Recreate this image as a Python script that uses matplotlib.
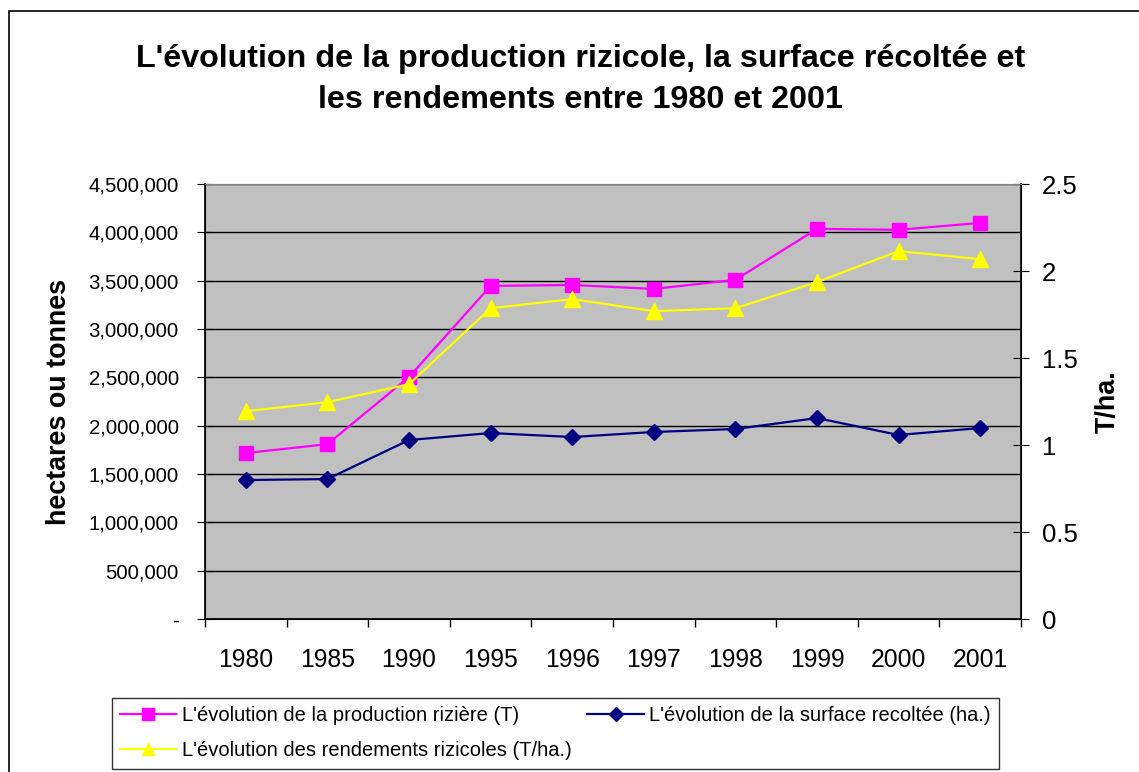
import matplotlib.pyplot as plt
from matplotlib.patches import Rectangle
from matplotlib.ticker import FuncFormatter

plt.rcParams['font.family'] = ['Liberation Sans', 'DejaVu Sans']

years = ["1980", "1985", "1990", "1995", "1996", "1997", "1998", "1999", "2000", "2001"]
production = [1718000, 1810000, 2505000, 3447000, 3457000, 3416000, 3510000, 4037000, 4027000, 4099000]
surface = [1439000, 1449000, 1853000, 1925000, 1884000, 1936000, 1967000, 2080000, 1905000, 1977000]
rendement = [1.195, 1.247, 1.35, 1.787, 1.839, 1.77, 1.787, 1.937, 2.115, 2.069]

lab_prod = "L'évolution de la production rizière (T)"
lab_surf = "L'évolution de la surface recoltée (ha.)"
lab_rend = "L'évolution des rendements rizicoles (T/ha.)"


def fmt_left(v, pos):
    if v == 0:
        return "-"
    return "{:,.0f}".format(v)


fig = plt.figure(figsize=(11.39, 7.72), dpi=100)
ax = fig.add_axes([0.18, 0.198, 0.7164, 0.5635])
ax.set_facecolor("#C0C0C0")

x = list(range(len(years)))
l1, = ax.plot(x, production, color="#FF00FF", marker="s", markersize=10, lw=1.6, label=lab_prod)
l2, = ax.plot(x, surface, color="#000080", marker="D", markersize=8.5, lw=1.6, label=lab_surf)

ax.set_ylim(0, 4500000)
ax.set_yticks(range(0, 4500001, 500000))
ax.yaxis.set_major_formatter(FuncFormatter(fmt_left))
ax.grid(axis="y", color="black", lw=1)
ax.set_axisbelow(True)
ax.set_xlim(-0.5, len(years) - 0.5)
ax.set_xticks(x)
ax.set_xticklabels(years)
ax.set_xticks([i - 0.5 for i in range(len(years) + 1)], minor=True)
ax.tick_params(axis="x", which="major", length=0, labelsize=17.8, pad=21)
ax.tick_params(axis="x", which="minor", length=6, direction="out", width=1)
ax.tick_params(axis="y", labelsize=14.7, direction="inout", length=12, pad=13)
ax.set_ylabel("hectares ou tonnes", fontsize=19.4, fontweight="bold", labelpad=12)
for s in ["left", "bottom"]:
    ax.spines[s].set_color("black")
    ax.spines[s].set_linewidth(1.2)
ax.spines["top"].set_color("#808080")

ax2 = ax.twinx()
l3, = ax2.plot(x, rendement, color="#FFFF00", marker="^", markersize=11, lw=1.6, label=lab_rend)
ax2.set_ylim(0, 2.5)
ax2.set_yticks([0, 0.5, 1, 1.5, 2, 2.5])
ax2.set_yticklabels(["0", "0.5", "1", "1.5", "2", "2.5"])
ax2.tick_params(axis="y", labelsize=18.5, direction="inout", length=12, pad=9)
ax2.set_ylabel("T/ha.", fontsize=19.4, fontweight="bold", rotation=90, labelpad=12)
ax2.spines["right"].set_linewidth(1.2)
ax2.spines["top"].set_color("#808080")

fig.text(0.51, 0.923, "L'évolution de la production rizicole, la surface récoltée et",
         ha="center", va="center", fontsize=23.2, fontweight="bold")
fig.text(0.51, 0.871, "les rendements entre 1980 et 2001",
         ha="center", va="center", fontsize=23.2, fontweight="bold")

leg = fig.legend([l1, l3, l2], [lab_prod, lab_rend, lab_surf], ncol=2,
                 loc="upper left", bbox_to_anchor=(0.098, 0.096), fontsize=14.5,
                 frameon=True, fancybox=False, edgecolor="black", handlelength=2.8,
                 handletextpad=0.25, columnspacing=0.8, borderpad=0.42, labelspacing=0.8,
                 borderaxespad=0, markerscale=0.85)
leg.get_frame().set_linewidth(1)

fig.patches.append(Rectangle((0.008, -0.1), 1.2, 1.086, transform=fig.transFigure,
                             fill=False, edgecolor="black", lw=1.2, clip_on=False))

fig.savefig("out.png", dpi=100)
